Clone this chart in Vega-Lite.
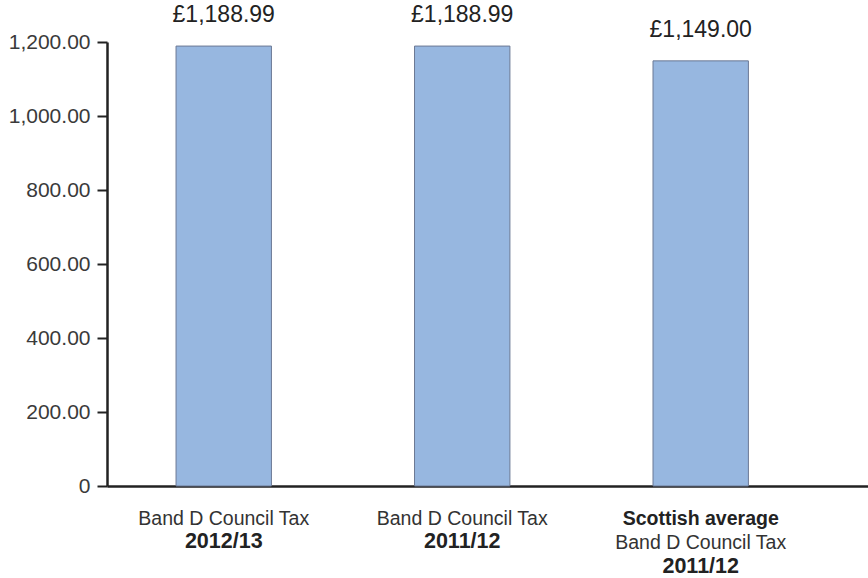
{
  "$schema": "https://vega.github.io/schema/vega-lite/v6.json",
  "width": 761,
  "height": 444,
  "autosize": "none",
  "padding": {"left": 107, "top": 42, "right": 0, "bottom": 92},
  "background": "white",
  "config": {"view": {"stroke": null}, "font": "Liberation Sans"},
  "datasets": {
    "bars": [
      {"cat": "Band D Council Tax 2012/13", "value": 1188.99},
      {"cat": "Band D Council Tax 2011/12", "value": 1188.99},
      {"cat": "Scottish average Band D Council Tax 2011/12", "value": 1149.00}
    ],
    "labels": [
      {"cat": "Band D Council Tax 2012/13", "line": 1, "weight": "normal", "text": "Band D Council Tax"},
      {"cat": "Band D Council Tax 2012/13", "line": 2, "weight": "bold", "text": "2012/13"},
      {"cat": "Band D Council Tax 2011/12", "line": 1, "weight": "normal", "text": "Band D Council Tax"},
      {"cat": "Band D Council Tax 2011/12", "line": 2, "weight": "bold", "text": "2011/12"},
      {"cat": "Scottish average Band D Council Tax 2011/12", "line": 1, "weight": "bold", "text": "Scottish average"},
      {"cat": "Scottish average Band D Council Tax 2011/12", "line": 2, "weight": "normal", "text": "Band D Council Tax"},
      {"cat": "Scottish average Band D Council Tax 2011/12", "line": 3, "weight": "bold", "text": "2011/12"}
    ]
  },
  "encoding": {
    "x": {
      "field": "cat",
      "type": "nominal",
      "sort": null,
      "scale": {"paddingInner": 0.6, "paddingOuter": 0.3955, "align": 0.366},
      "axis": {
        "title": null,
        "labels": false,
        "ticks": false,
        "domainColor": "#222222",
        "domainWidth": 2.5
      }
    }
  },
  "layer": [
    {
      "data": {"name": "bars"},
      "mark": {"type": "bar", "fill": "#97b7e0", "stroke": "#6b7894", "strokeWidth": 1},
      "encoding": {
        "y": {
          "field": "value",
          "type": "quantitative",
          "scale": {"domain": [0, 1200], "nice": false},
          "axis": {
            "title": null,
            "values": [0, 200, 400, 600, 800, 1000, 1200],
            "labelExpr": "datum.value == 0 ? '0' : format(datum.value, ',.2f')",
            "labelFontSize": 21,
            "labelColor": "#3a3a3a",
            "labelPadding": 7,
            "tickSize": 10,
            "tickWidth": 2,
            "tickColor": "#222222",
            "domainColor": "#222222",
            "domainWidth": 2.5,
            "grid": false
          }
        }
      }
    },
    {
      "data": {"name": "bars"},
      "transform": [{"calculate": "'£' + format(datum.value, ',.2f')", "as": "lbl"}],
      "mark": {"type": "text", "fontSize": 23, "color": "#222222", "baseline": "alphabetic", "dy": -24},
      "encoding": {
        "y": {"field": "value", "type": "quantitative"},
        "text": {"field": "lbl"}
      }
    },
    {
      "data": {"name": "labels"},
      "transform": [{"filter": "datum.line == 1 && datum.weight == 'normal'"}],
      "mark": {"type": "text", "fontSize": 19.5, "color": "#333333", "baseline": "alphabetic", "dy": 39},
      "encoding": {"y": {"datum": 0, "type": "quantitative"}, "text": {"field": "text"}}
    },
    {
      "data": {"name": "labels"},
      "transform": [{"filter": "datum.line == 1 && datum.weight == 'bold'"}],
      "mark": {"type": "text", "fontSize": 19.5, "fontWeight": "bold", "color": "#222222", "baseline": "alphabetic", "dy": 39},
      "encoding": {"y": {"datum": 0, "type": "quantitative"}, "text": {"field": "text"}}
    },
    {
      "data": {"name": "labels"},
      "transform": [{"filter": "datum.line == 2 && datum.weight == 'bold'"}],
      "mark": {"type": "text", "fontSize": 21.5, "fontWeight": "bold", "color": "#222222", "baseline": "alphabetic", "dy": 62},
      "encoding": {"y": {"datum": 0, "type": "quantitative"}, "text": {"field": "text"}}
    },
    {
      "data": {"name": "labels"},
      "transform": [{"filter": "datum.line == 2 && datum.weight == 'normal'"}],
      "mark": {"type": "text", "fontSize": 19.5, "color": "#333333", "baseline": "alphabetic", "dy": 63},
      "encoding": {"y": {"datum": 0, "type": "quantitative"}, "text": {"field": "text"}}
    },
    {
      "data": {"name": "labels"},
      "transform": [{"filter": "datum.line == 3"}],
      "mark": {"type": "text", "fontSize": 21.5, "fontWeight": "bold", "color": "#222222", "baseline": "alphabetic", "dy": 87},
      "encoding": {"y": {"datum": 0, "type": "quantitative"}, "text": {"field": "text"}}
    }
  ]
}
